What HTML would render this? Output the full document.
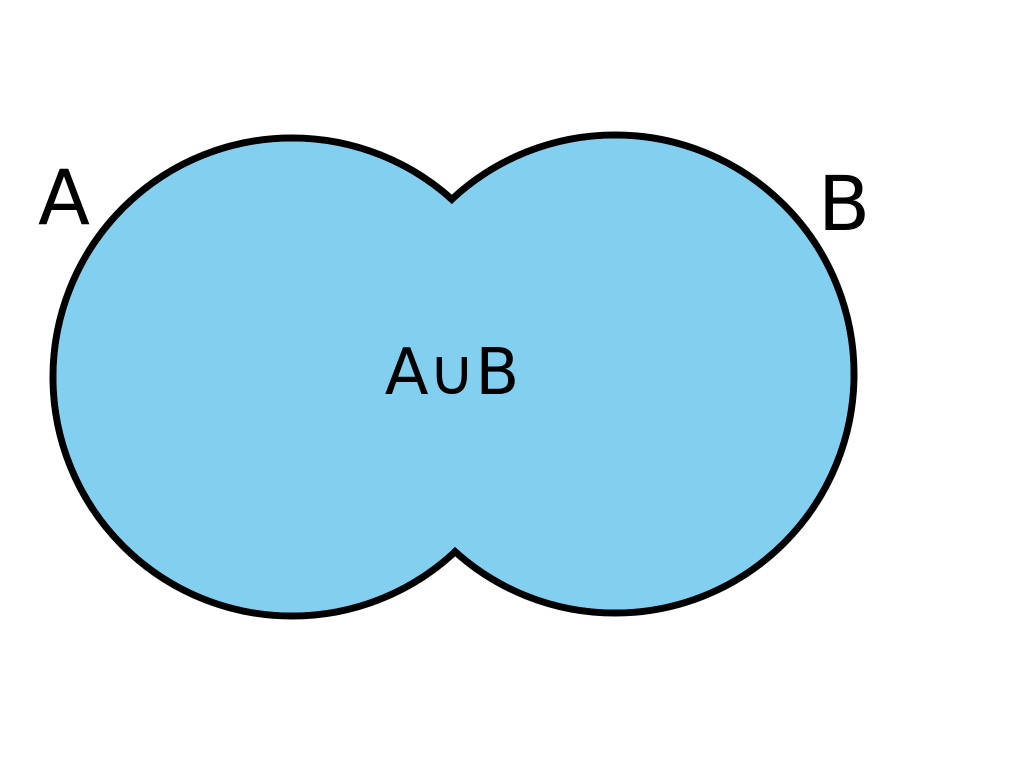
<!DOCTYPE html>
<html>
<head>
<meta charset="utf-8">
<style>
  html,body{margin:0;padding:0;background:#fff;}
  svg{display:block;}
  text{font-family:"DejaVu Sans","Liberation Sans",sans-serif;fill:#000;}
</style>
</head>
<body>
<svg id="chart" width="1024" height="768" viewBox="0 0 1024 768" xmlns="http://www.w3.org/2000/svg">
  <g id="strokes"></g>
  <g id="fills"></g>
  <text x="38" y="224" font-size="76">A</text>
  <text x="818" y="230" font-size="76">B</text>
  <text x="452" y="394" font-size="64" text-anchor="middle">A∪B</text>
</svg>
<script>
const setNames = ["A", "B"];
const centerX = [292, 615];
const centerY = [377, 374];
const radii = [239, 239];

const NS = "http://www.w3.org/2000/svg";
const strokes = document.getElementById("strokes");
const fills = document.getElementById("fills");
for (let i = 0; i < setNames.length; i++) {
  const c = document.createElementNS(NS, "circle");
  c.setAttribute("cx", centerX[i]);
  c.setAttribute("cy", centerY[i]);
  c.setAttribute("r", radii[i]);
  c.setAttribute("fill", "#83cff0");
  c.setAttribute("stroke", "#000");
  c.setAttribute("stroke-width", "7");
  
  
  strokes.appendChild(c);

  const f = document.createElementNS(NS, "circle");
  f.setAttribute("cx", centerX[i]);
  f.setAttribute("cy", centerY[i]);
  f.setAttribute("r", radii[i] - 3.5);
  f.setAttribute("fill", "#83cff0");
  
  
  fills.appendChild(f);
}
</script>
</body>
</html>
